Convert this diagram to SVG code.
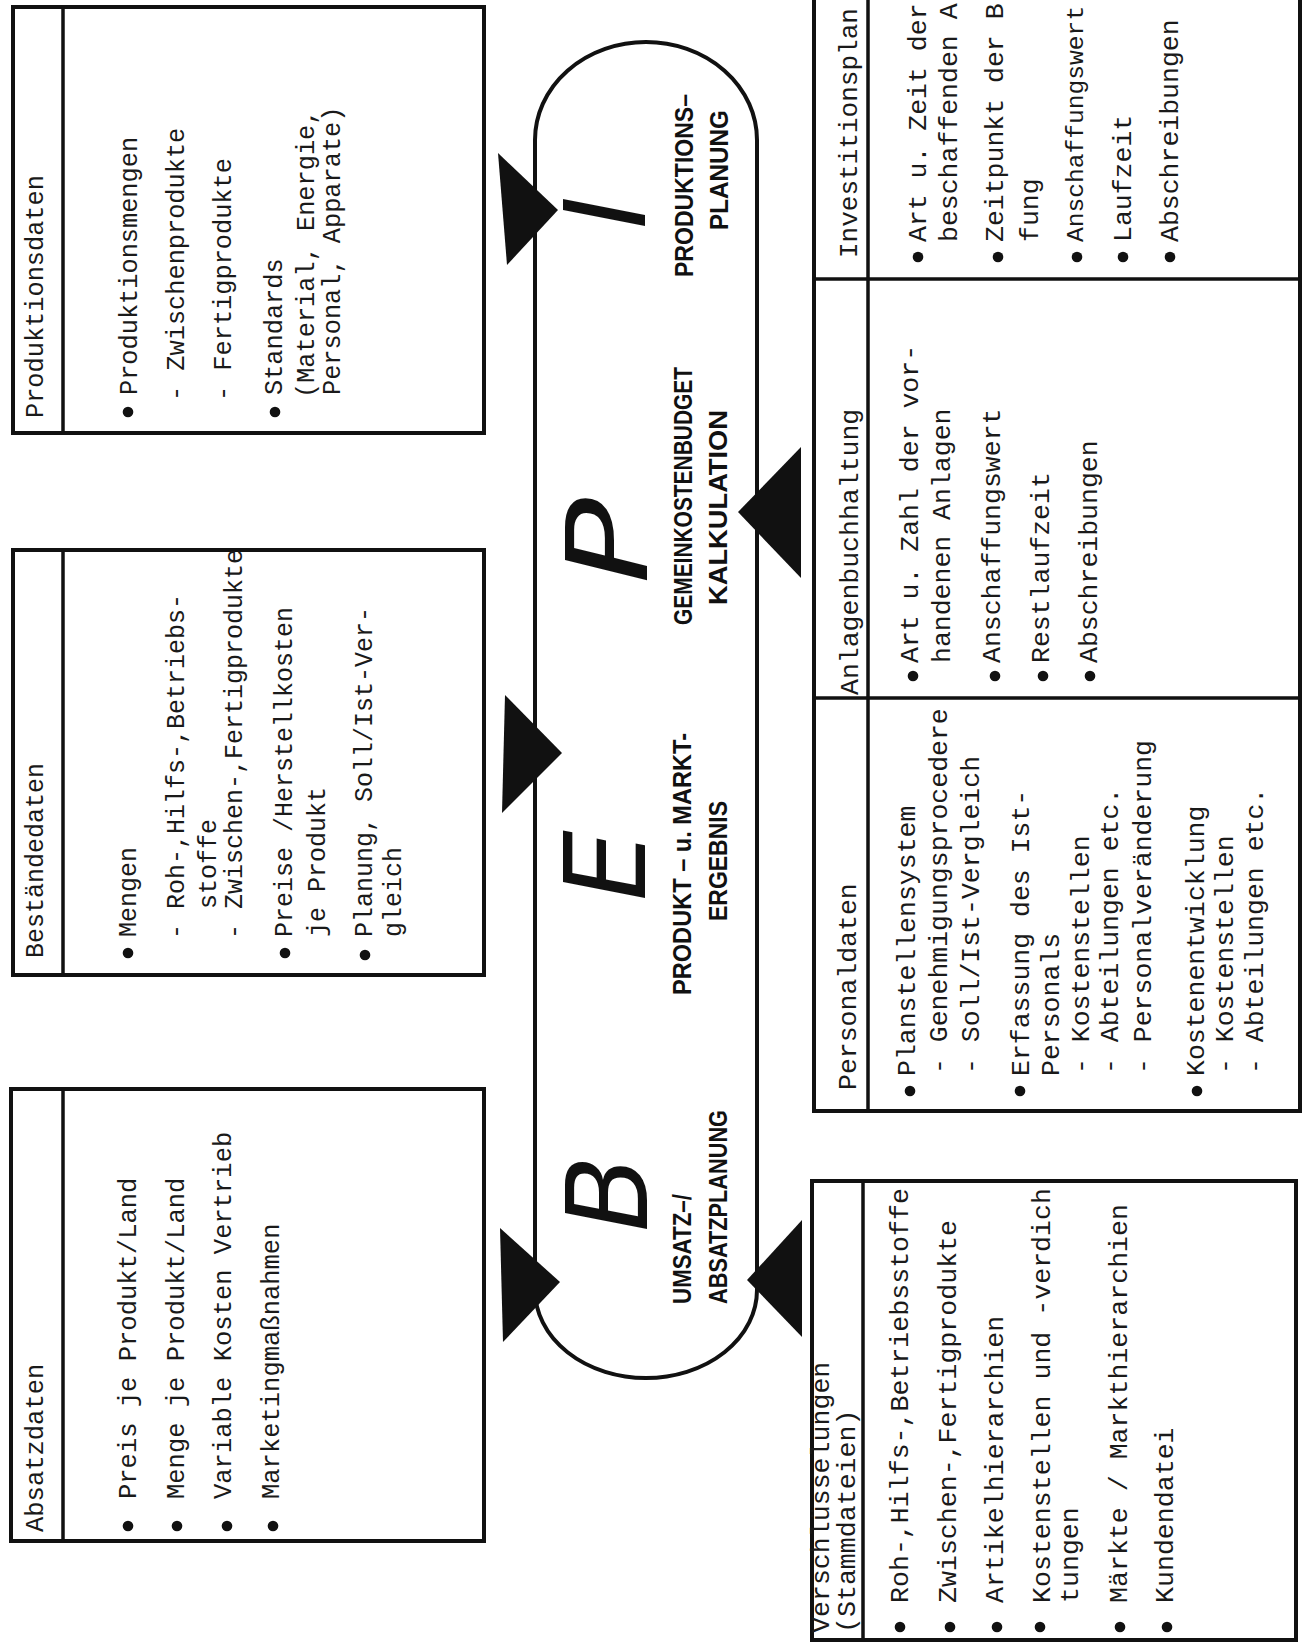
<svg xmlns="http://www.w3.org/2000/svg" xmlns:xlink="http://www.w3.org/1999/xlink" width="1309" height="1642" viewBox="0 0 1309 1642">
<style>
.box{fill:none;stroke:#111;stroke-width:4}
.ln{stroke:#111;stroke-width:3.5;fill:none}
.t{font-family:"Liberation Mono","DejaVu Sans Mono",monospace;font-size:25px;fill:#1a1a1a}
.t1{font-family:"Liberation Mono","DejaVu Sans Mono",monospace;font-size:25.3px;fill:#1a1a1a}
.t2{font-family:"Liberation Mono","DejaVu Sans Mono",monospace;font-size:25.5px;fill:#1a1a1a}
.t3{font-family:"Liberation Mono","DejaVu Sans Mono",monospace;font-size:26.6px;fill:#1a1a1a}
.t4{font-family:"Liberation Mono","DejaVu Sans Mono",monospace;font-size:26.5px;fill:#1a1a1a}
.c{font-family:"Liberation Sans",Arial,sans-serif;font-weight:bold;font-size:26px;fill:#111}
.big{font-family:"DejaVu Sans",sans-serif;font-style:italic;font-size:112px;fill:#111}
.loop{fill:none;stroke:#111;stroke-width:4}
.arr{fill:#111}
</style>
<defs>
<circle id="b" r="5.3" fill="#111"/>
</defs>
<rect x="0" y="0" width="1309" height="1642" fill="#fff"/>

<g id="produktionsdaten">
<rect class="box" x="13" y="7" width="471" height="426"/>
<line class="ln" x1="63" y1="7" x2="63" y2="433"/>
<use xlink:href="#b" x="128" y="412"/>
<use xlink:href="#b" x="275" y="412"/>
<g transform="translate(0,1642) rotate(-90)" class="t1">
<text x="1224" y="43">Produktionsdaten</text>
<text x="1247" y="137">Produktionsmengen</text>
<text x="1241" y="184">- Zwischenprodukte</text>
<text x="1241" y="231">- Fertigprodukte</text>
<text x="1247" y="282">Standards</text>
<text x="1244" y="314">(Material, Energie,</text>
<text x="1247" y="340">Personal, Apparate)</text>
</g>
</g>

<g id="bestaendedaten">
<rect class="box" x="13" y="550" width="471" height="425"/>
<line class="ln" x1="63" y1="550" x2="63" y2="975"/>
<use xlink:href="#b" x="128" y="953"/>
<use xlink:href="#b" x="285" y="953"/>
<use xlink:href="#b" x="365" y="955"/>
<g transform="translate(0,1642) rotate(-90)" class="t">
<text x="684" y="43">Beständedaten</text>
<text x="705" y="136">Mengen</text>
<text x="703" y="184">- Roh-,Hilfs-,Betriebs-</text>
<text x="733" y="216">stoffe</text>
<text x="703" y="242">- Zwischen-,Fertigprodukte</text>
<text x="705" y="292">Preise /Herstellkosten</text>
<text x="705" y="325">je Produkt</text>
<text x="705" y="372">Planung, Soll/Ist-Ver-</text>
<text x="705" y="401">gleich</text>
</g>
</g>

<g id="absatzdaten">
<rect class="box" x="11" y="1089" width="473" height="452"/>
<line class="ln" x1="63" y1="1089" x2="63" y2="1541"/>
<use xlink:href="#b" x="128" y="1526"/>
<use xlink:href="#b" x="177" y="1526"/>
<use xlink:href="#b" x="227" y="1526"/>
<use xlink:href="#b" x="273" y="1526"/>
<g transform="translate(0,1642) rotate(-90)" class="t2">
<text x="110" y="43">Absatzdaten</text>
<text x="143" y="136">Preis je Produkt/Land</text>
<text x="143" y="184">Menge je Produkt/Land</text>
<text x="143" y="231">Variable Kosten Vertrieb</text>
<text x="143" y="279">Marketingmaßnahmen</text>
</g>
</g>

<g id="planungskreislauf">
<path class="loop" d="M535 140 A111 98 0 0 1 757 140 L757 1290 A111 88 0 0 1 535 1290 Z"/>
<g transform="translate(0,1642) rotate(-90)">
<text class="big" x="410" y="647">B</text>
<text class="big" x="741" y="645">E</text>
<text class="big" x="1058" y="647" textLength="86" lengthAdjust="spacingAndGlyphs">P</text>
<text class="big" x="1413" y="645">I</text>
<text class="c" x="338" y="691" textLength="110" lengthAdjust="spacingAndGlyphs">UMSATZ–/</text>
<text class="c" x="338" y="727" textLength="194" lengthAdjust="spacingAndGlyphs">ABSATZPLANUNG</text>
<text class="c" x="647" y="691" textLength="262" lengthAdjust="spacingAndGlyphs">PRODUKT – u. MARKT-</text>
<text class="c" x="721" y="727" textLength="120" lengthAdjust="spacingAndGlyphs">ERGEBNIS</text>
<text class="c" x="1017" y="692" textLength="258" lengthAdjust="spacingAndGlyphs">GEMEINKOSTENBUDGET</text>
<text class="c" x="1037" y="727" textLength="195" lengthAdjust="spacingAndGlyphs">KALKULATION</text>
<text class="c" x="1365" y="693" textLength="183" lengthAdjust="spacingAndGlyphs">PRODUKTIONS–</text>
<text class="c" x="1412" y="728" textLength="120" lengthAdjust="spacingAndGlyphs">PLANUNG</text>
</g>
</g>

<g id="anlagen-personal">
<rect class="box" x="814" y="-10" width="486" height="1121"/>
<line class="ln" x1="868" y1="-10" x2="868" y2="1111"/>
<line class="ln" x1="814" y1="279" x2="1300" y2="279"/>
<line class="ln" x1="814" y1="698" x2="1300" y2="698"/>
<g id="investitionsplan">
<use xlink:href="#b" x="918" y="257"/>
<use xlink:href="#b" x="998" y="257"/>
<use xlink:href="#b" x="1077" y="257"/>
<use xlink:href="#b" x="1123" y="257"/>
<use xlink:href="#b" x="1170" y="257"/>
<g transform="translate(0,1642) rotate(-90)" class="t4">
<text x="1384" y="857" textLength="250" lengthAdjust="spacingAndGlyphs">Investitionsplan</text>
<text x="1400" y="926">Art u. Zeit der</text>
<text x="1400" y="957">beschaffenden A</text>
<text x="1400" y="1003">Zeitpunkt der B</text>
<text x="1400" y="1038">fung</text>
<text x="1400" y="1083" style="font-size:24.6px">Anschaffungswert</text>
<text x="1400" y="1131">Laufzeit</text>
<text x="1400" y="1178">Abschreibungen</text>
</g>
</g>
<g id="anlagenbuchhaltung">
<use xlink:href="#b" x="913" y="676"/>
<use xlink:href="#b" x="995" y="676"/>
<use xlink:href="#b" x="1043" y="676"/>
<use xlink:href="#b" x="1090" y="676"/>
<g transform="translate(0,1642) rotate(-90)" class="t4">
<text x="947" y="858">Anlagenbuchhaltung</text>
<text x="979" y="918">Art u. Zahl der vor-</text>
<text x="979" y="950">handenen Anlagen</text>
<text x="979" y="1000">Anschaffungswert</text>
<text x="979" y="1049">Restlaufzeit</text>
<text x="979" y="1097">Abschreibungen</text>
</g>
</g>
<g id="personaldaten">
<use xlink:href="#b" x="910" y="1091"/>
<use xlink:href="#b" x="1020" y="1091"/>
<use xlink:href="#b" x="1197" y="1091"/>
<g transform="translate(0,1642) rotate(-90)" class="t4">
<text x="552" y="856">Personaldaten</text>
<text x="566" y="915">Planstellensystem</text>
<text x="568" y="947">- Genehmigungsprocedere</text>
<text x="568" y="979">- Soll/Ist-Vergleich</text>
<text x="566" y="1029">Erfassung des Ist-</text>
<text x="566" y="1059">Personals</text>
<text x="568" y="1089">- Kostenstellen</text>
<text x="568" y="1118">- Abteilungen etc.</text>
<text x="568" y="1151">- Personalveränderung</text>
<text x="566" y="1204">Kostenentwicklung</text>
<text x="568" y="1233">- Kostenstellen</text>
<text x="568" y="1263">- Abteilungen etc.</text>
</g>
</g>
</g>

<g id="verschluesselungen">
<rect class="box" x="812" y="1181" width="484" height="459"/>
<line class="ln" x1="863" y1="1181" x2="863" y2="1640"/>
<use xlink:href="#b" x="900" y="1627"/>
<use xlink:href="#b" x="950" y="1627"/>
<use xlink:href="#b" x="997" y="1627"/>
<use xlink:href="#b" x="1040" y="1627"/>
<use xlink:href="#b" x="1120" y="1627"/>
<use xlink:href="#b" x="1167" y="1627"/>
<g transform="translate(0,1642) rotate(-90)" class="t3">
<text x="9" y="829">Verschlüsselungen</text>
<text x="9" y="855">(Stammdateien)</text>
<text x="39" y="908">Roh-,Hilfs-,Betriebsstoffe</text>
<text x="39" y="956">Zwischen-,Fertigprodukte</text>
<text x="39" y="1003">Artikelhierarchien</text>
<text x="39" y="1050">Kostenstellen und -verdich</text>
<text x="39" y="1078">tungen</text>
<text x="39" y="1127">Märkte / Markthierarchien</text>
<text x="39" y="1173">Kundendatei</text>
</g>
</g>

<g id="connectors">
<polygon class="arr" points="498,153 558,210 507,265"/>
<polygon class="arr" points="505,695 562,753 502,813"/>
<polygon class="arr" points="500,1228 560,1282 503,1342"/>
<polygon class="arr" points="801,447 738,512 801,578"/>
<polygon class="arr" points="802,1220 747,1280 802,1337"/>
</g>
</svg>
